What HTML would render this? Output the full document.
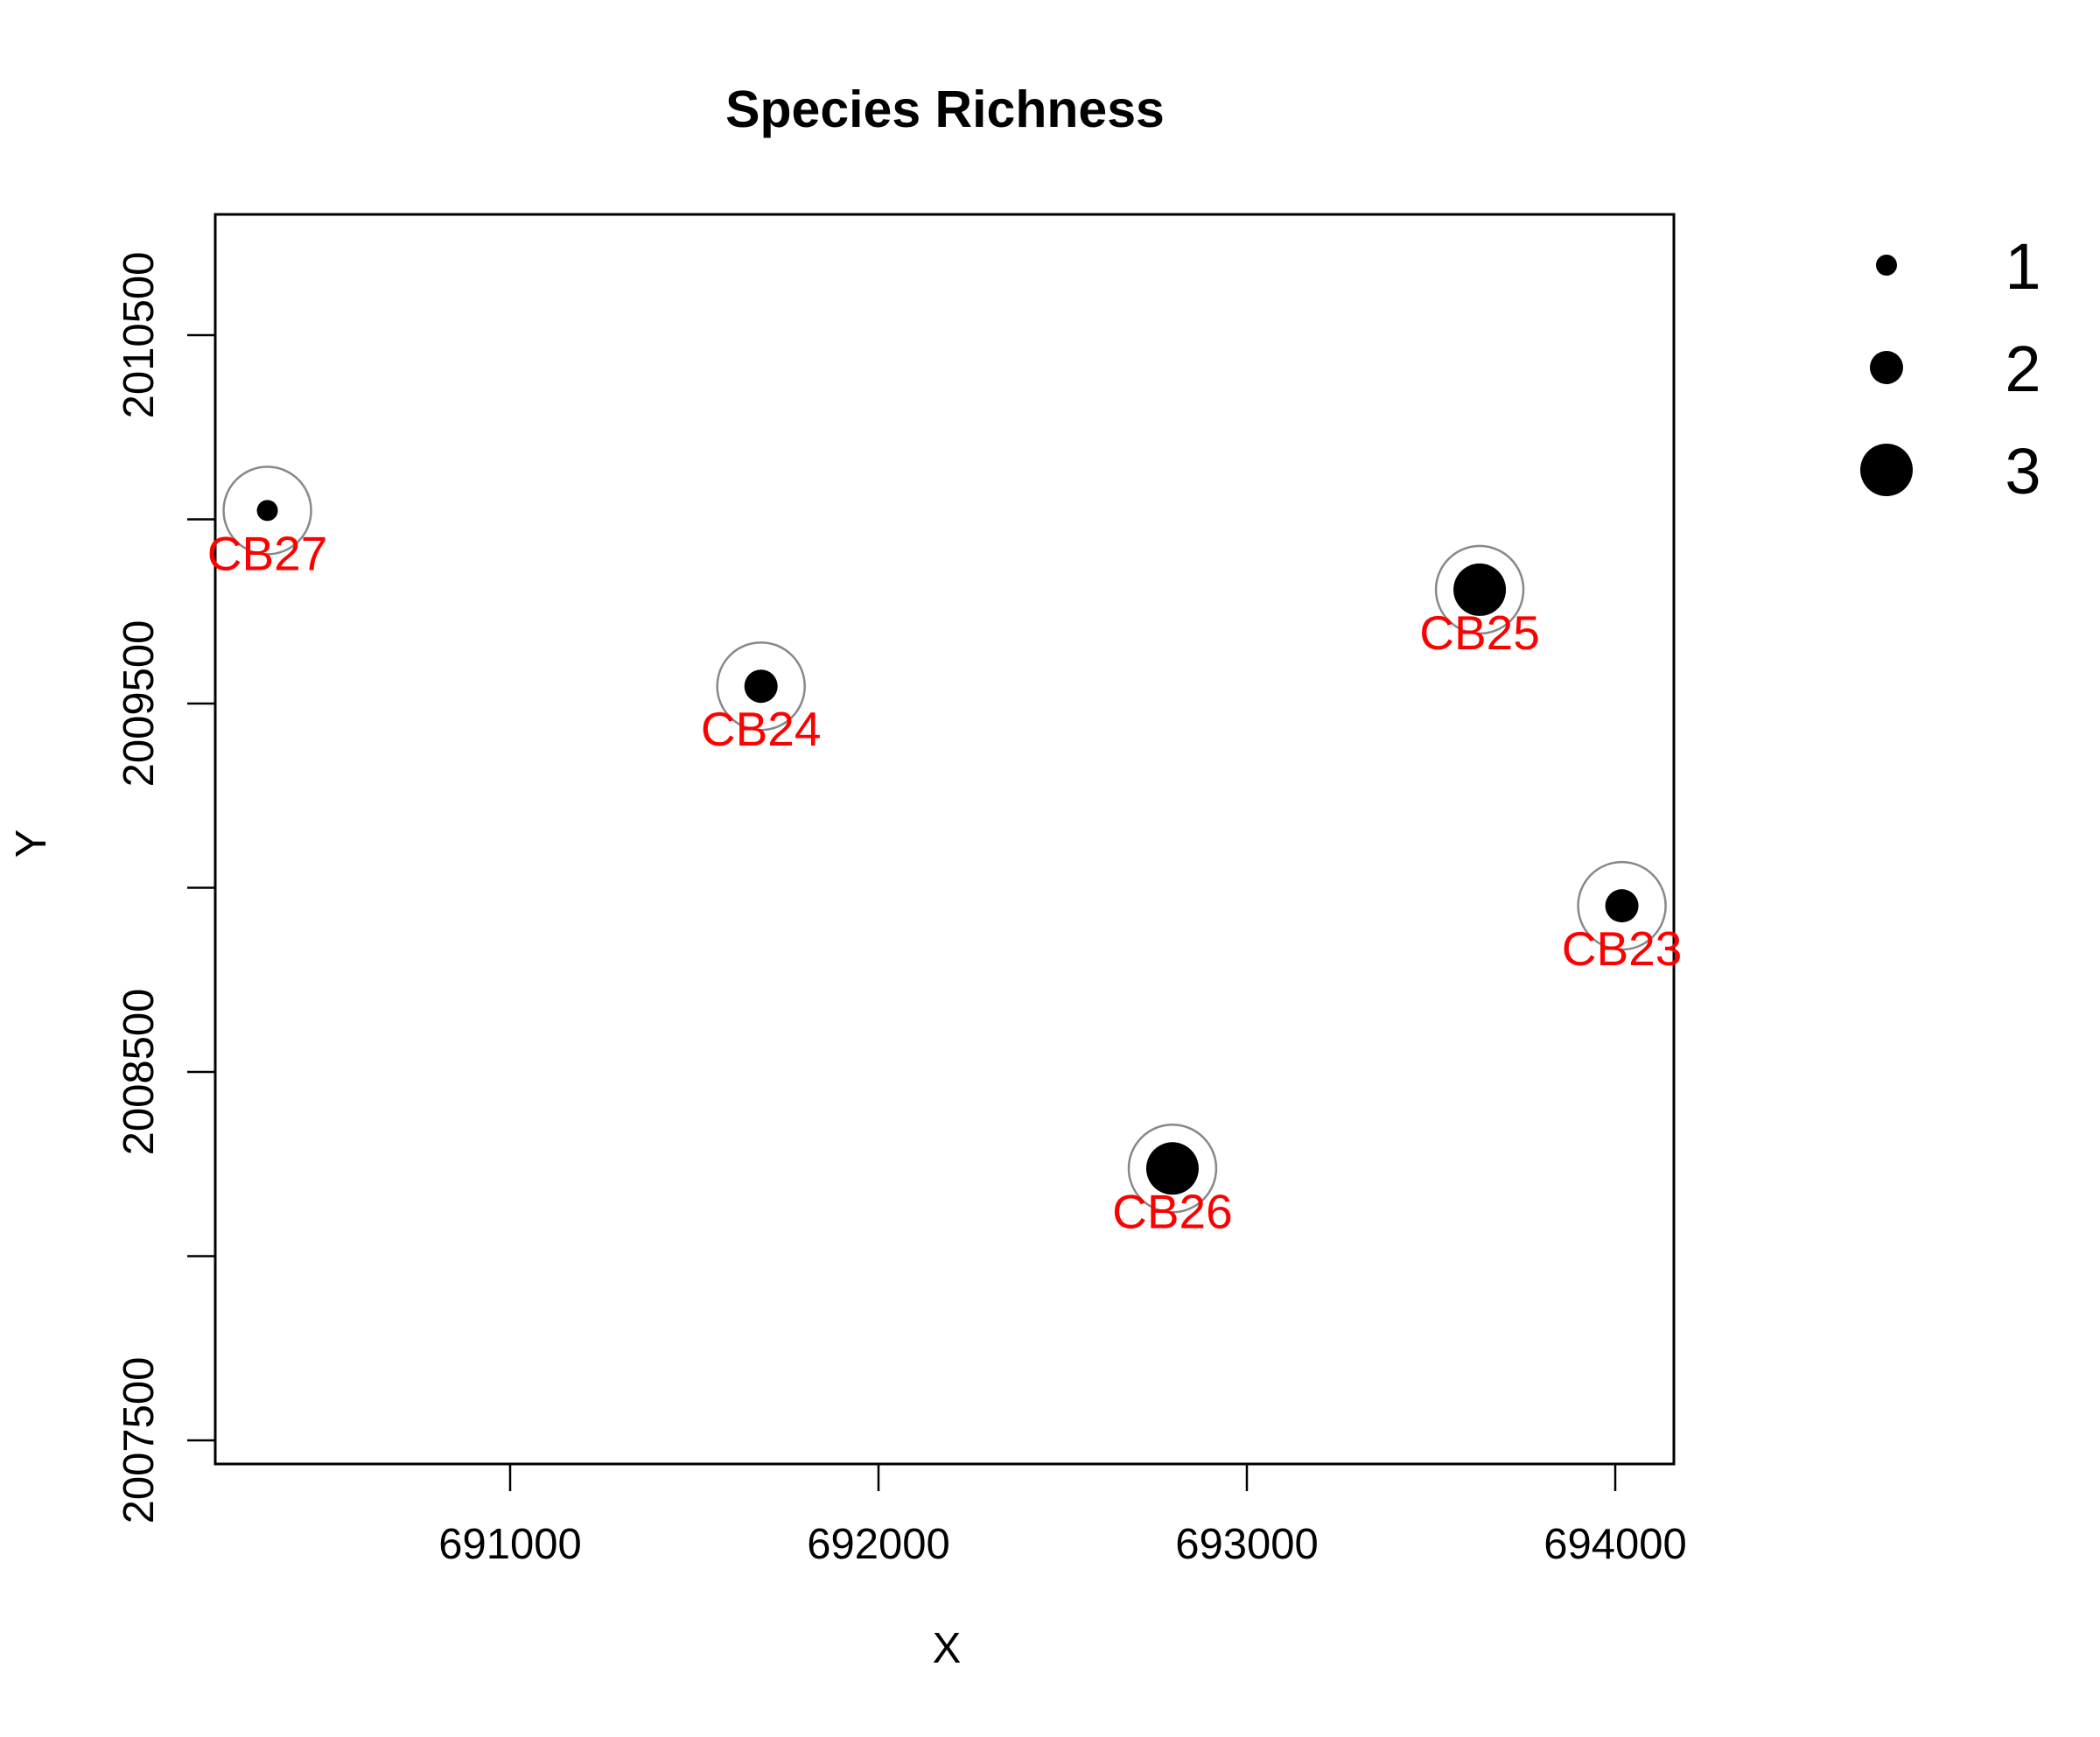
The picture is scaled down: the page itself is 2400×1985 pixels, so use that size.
<!DOCTYPE html>
<html><head><meta charset="utf-8"><style>
body{margin:0;background:#fff}
svg text{font-family:"Liberation Sans",sans-serif}
</style></head><body>
<svg id="chart" width="2400" height="1980" viewBox="0 0 2400 1980" xmlns="http://www.w3.org/2000/svg">
<rect width="2400" height="1980" fill="#fff"/>
<text x="1080" y="145" font-size="59" font-weight="bold" text-anchor="middle">Species Richness</text>
<rect x="246" y="245" width="1667" height="1428" fill="none" stroke="#000" stroke-width="3"/>
<g id="xaxis"></g>
<g id="yaxis"></g>
<text x="1082" y="1900" font-size="49" text-anchor="middle">X</text>
<text transform="translate(52,964) rotate(-90)" font-size="49" text-anchor="middle">Y</text>
<g id="points"></g>
<g id="legend"></g>
</svg>
<script>
const siteNames = ["CB27","CB24","CB25","CB23","CB26"];
const siteX = [690341,691681,693632,694018,692798];
const siteY = [2010024,2009547,2009809,2008951,2008238];
const richness = [1,2,3,2,3];
const xTicks = [691000,692000,693000,694000];
const yTicks = [2007500,2008000,2008500,2009000,2009500,2010000,2010500];
const yTickLabels = ["2007500","","2008500","","2009500","","2010500"];
const legendValues = [1,2,3];

const NS="http://www.w3.org/2000/svg";
function X(v){return 583+(v-691000)*0.421;}
function Y(v){return 383+(2010500-v)*0.421;}
function R(r){return [0,12,19,30][r];}
function mk(tag,attrs,parent){const e=document.createElementNS(NS,tag);for(const k in attrs)e.setAttribute(k,attrs[k]);parent.appendChild(e);return e;}
const xa=document.getElementById('xaxis'),ya=document.getElementById('yaxis'),pg=document.getElementById('points'),lg=document.getElementById('legend');
xTicks.forEach(t=>{
  const l=mk('line',{x1:X(t),x2:X(t),y1:1673,y2:1704,stroke:'#000','stroke-width':2.5},xa);
  
  
  const tx=mk('text',{x:X(t),y:1781,'font-size':49,'text-anchor':'middle'},xa);
  tx.textContent=t;
  
  
});
yTicks.forEach((t,i)=>{
  const l=mk('line',{x1:214,x2:246,y1:Y(t),y2:Y(t),stroke:'#000','stroke-width':2.5},ya);
  
  
  if(yTickLabels[i]){
    const tx=mk('text',{transform:`translate(175,${Y(t)}) rotate(-90)`,'font-size':49,'text-anchor':'middle'},ya);
    tx.textContent=yTickLabels[i];
    
    
  }
});
siteNames.forEach((n,i)=>{
  const cx=X(siteX[i]),cy=Y(siteY[i]);
  const ring=mk('circle',{cx,cy,r:50,fill:'none',stroke:'#888','stroke-width':2.5},pg);
  
  
  const d=mk('circle',{cx,cy,r:R(richness[i]),fill:'#000'},pg);
  
  
  const t=mk('text',{x:cx,y:cy+68,'font-size':55,fill:'#f00','text-anchor':'middle'},pg);
  t.textContent=n;
  
  
});
legendValues.forEach((v,i)=>{
  const cy=303+i*117;
  const c=mk('circle',{cx:2156,cy,r:R(v),fill:'#000'},lg);
  
  
  const t=mk('text',{x:2312,y:cy+27,'font-size':74,'text-anchor':'middle'},lg);
  t.textContent=v;
  
  
});
</script>
</body></html>
